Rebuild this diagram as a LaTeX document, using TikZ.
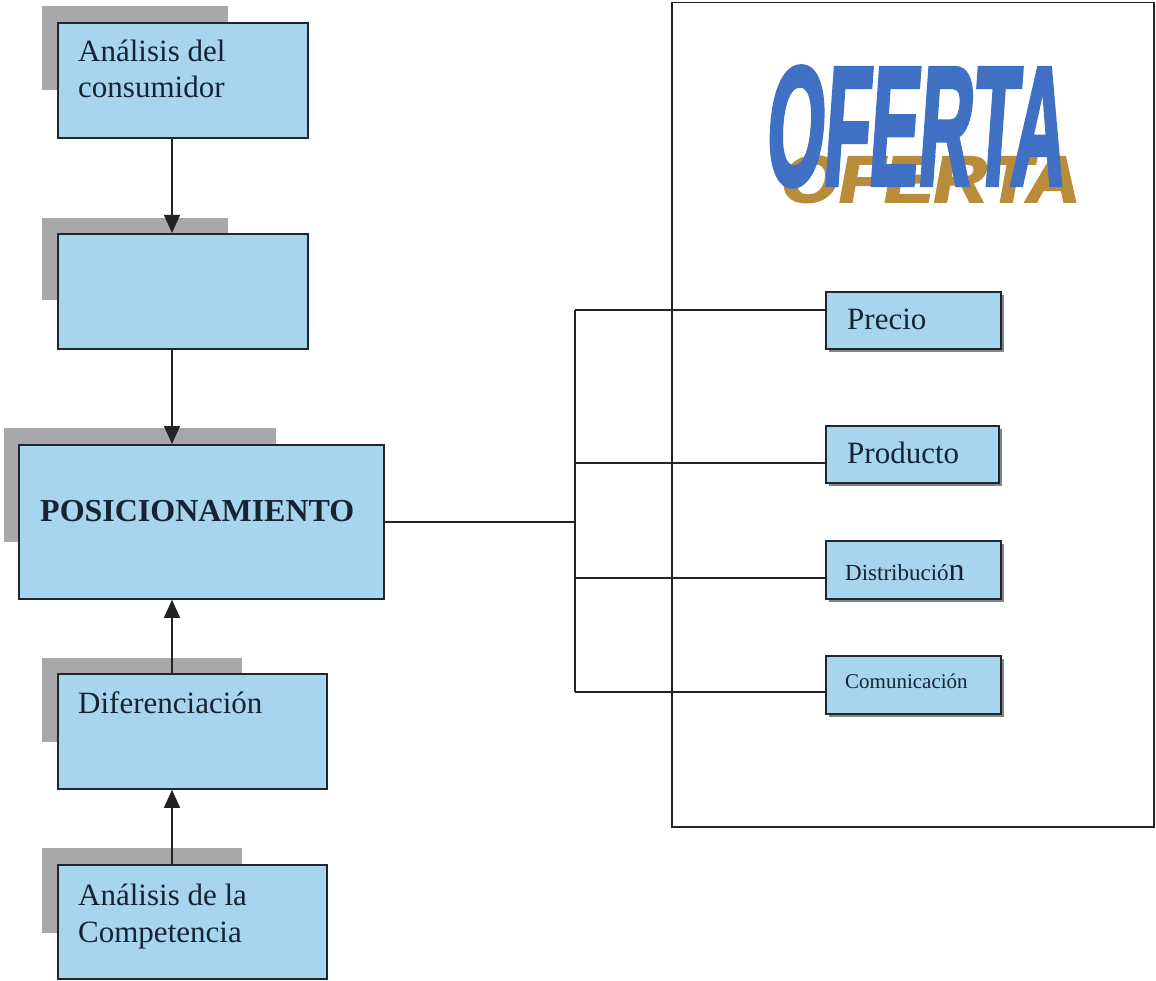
\documentclass[tikz,border=0pt]{standalone}
\usepackage{fontspec}
\usepackage{graphicx}
\setmainfont{Liberation Serif}
\newfontfamily\ofertafont[FakeSlant=0.12,FakeStretch=0.74,FakeBold=2.5]{Liberation Sans}
\usetikzlibrary{arrows.meta,shadows}
\definecolor{boxfill}{RGB}{166,213,237}
\definecolor{shadowgray}{RGB}{168,168,170}
\definecolor{boxline}{RGB}{30,38,46}
\definecolor{txtcol}{RGB}{22,36,50}
\definecolor{linecol}{RGB}{35,35,35}
\definecolor{ofblue}{RGB}{63,112,196}
\definecolor{oftan}{RGB}{185,140,60}
\begin{document}
\begin{tikzpicture}[x=1pt,y=-1pt,
  box/.style={draw=boxline, line width=1.8pt, fill=boxfill, rectangle, inner sep=0pt, anchor=north west},
  smallbox/.style={box, drop shadow={shadow xshift=3pt, shadow yshift=-3pt, fill=black!60, opacity=0.8}},
  txt/.style={anchor=base west, inner sep=0pt, text=txtcol, font=\fontsize{31}{36}\selectfont},
  conn/.style={draw=linecol, line width=1.5pt},
  arr/.style={conn, -{Triangle[length=18pt,width=16pt]}}
]
\useasboundingbox (0,0) rectangle (1156,981);
\fill[white] (0,0) rectangle (1156,981);

% right frame
\node[draw=linecol, line width=1.5pt, rectangle, inner sep=0pt, anchor=north west,
      minimum width=482pt, minimum height=824pt] (frame) at (671,2) {};

% OFERTA word art
\node[anchor=base west, inner sep=0pt, text=oftan] (ofshadow) at (778,202)
  {\scalebox{1.0}[0.66]{\ofertafont\bfseries\fontsize{100}{100}\selectfont OFERTA}};
\node[anchor=base west, inner sep=0pt, text=ofblue] (ofword) at (764,185)
  {\scalebox{1.0}[1.70]{\ofertafont\bfseries\fontsize{100}{100}\selectfont OFERTA}};

% left shadows
\fill[shadowgray] (42,6) rectangle (228,90);
\fill[shadowgray] (42,218) rectangle (228,300);
\fill[shadowgray] (4,428) rectangle (276,542);
\fill[shadowgray] (42,658) rectangle (242,742);
\fill[shadowgray] (42,848) rectangle (242,933);

% left boxes
\node[box, minimum width=250pt, minimum height=115pt] (cons) at (57,22) {};
\node[box, minimum width=250pt, minimum height=115pt] (blank) at (57,233) {};
\node[box, minimum width=365pt, minimum height=154pt] (pos) at (18,444) {};
\node[box, minimum width=269pt, minimum height=115pt] (dif) at (57,673) {};
\node[box, minimum width=269pt, minimum height=114pt] (comp) at (57,864) {};

\node[txt] (t1a) at (78,62) {Análisis del};
\node[txt] (t1b) at (78,98) {consumidor};
\node[txt, font=\bfseries\fontsize{32}{36}\selectfont] (tpos) at (40,521) {POSICIONAMIENTO};
\node[txt] (tdif) at (78,713) {Diferenciación};
\node[txt] (tc1) at (78,905) {Análisis de la};
\node[txt] (tc2) at (78,942) {Competencia};

% arrows
\coordinate (ax) at (172,0);
\draw[arr] (cons.south -| ax) -- (blank.north -| ax);
\draw[arr] (blank.south -| ax) -- (pos.north -| ax);
\draw[arr] (dif.north -| ax) -- (pos.south -| ax);
\draw[arr] (comp.north -| ax) -- (dif.south -| ax);

% right small boxes
\node[smallbox, minimum width=175pt, minimum height=57pt] (precio) at (825,291) {};
\node[smallbox, minimum width=173pt, minimum height=57pt] (producto) at (825,425) {};
\node[smallbox, minimum width=175pt, minimum height=58pt] (dist) at (825,540) {};
\node[smallbox, minimum width=175pt, minimum height=58pt] (comun) at (825,655) {};

\node[txt] (tprecio) at (847,330) {Precio};
\node[txt] (tprod) at (847,463) {Producto};
\node[txt, font=\fontsize{23}{26}\selectfont] (tdist) at (845,580) {Distribució\fontsize{32}{36}\selectfont n};
\node[txt, font=\fontsize{21}{24}\selectfont] (tcom) at (845,688) {Comunicación};

% connectors
\coordinate (jp) at (575,310);
\coordinate (jr) at (575,463);
\coordinate (jd) at (575,578);
\coordinate (jc) at (575,692);
\draw[conn] (pos.east) -- (pos.east -| jp);
\draw[conn] (jp) -- (jc);
\draw[conn] (jp) -- (jp -| precio.west);
\draw[conn] (jr) -- (jr -| producto.west);
\draw[conn] (jd) -- (jd -| dist.west);
\draw[conn] (jc) -- (jc -| comun.west);
\end{tikzpicture}
\end{document}
